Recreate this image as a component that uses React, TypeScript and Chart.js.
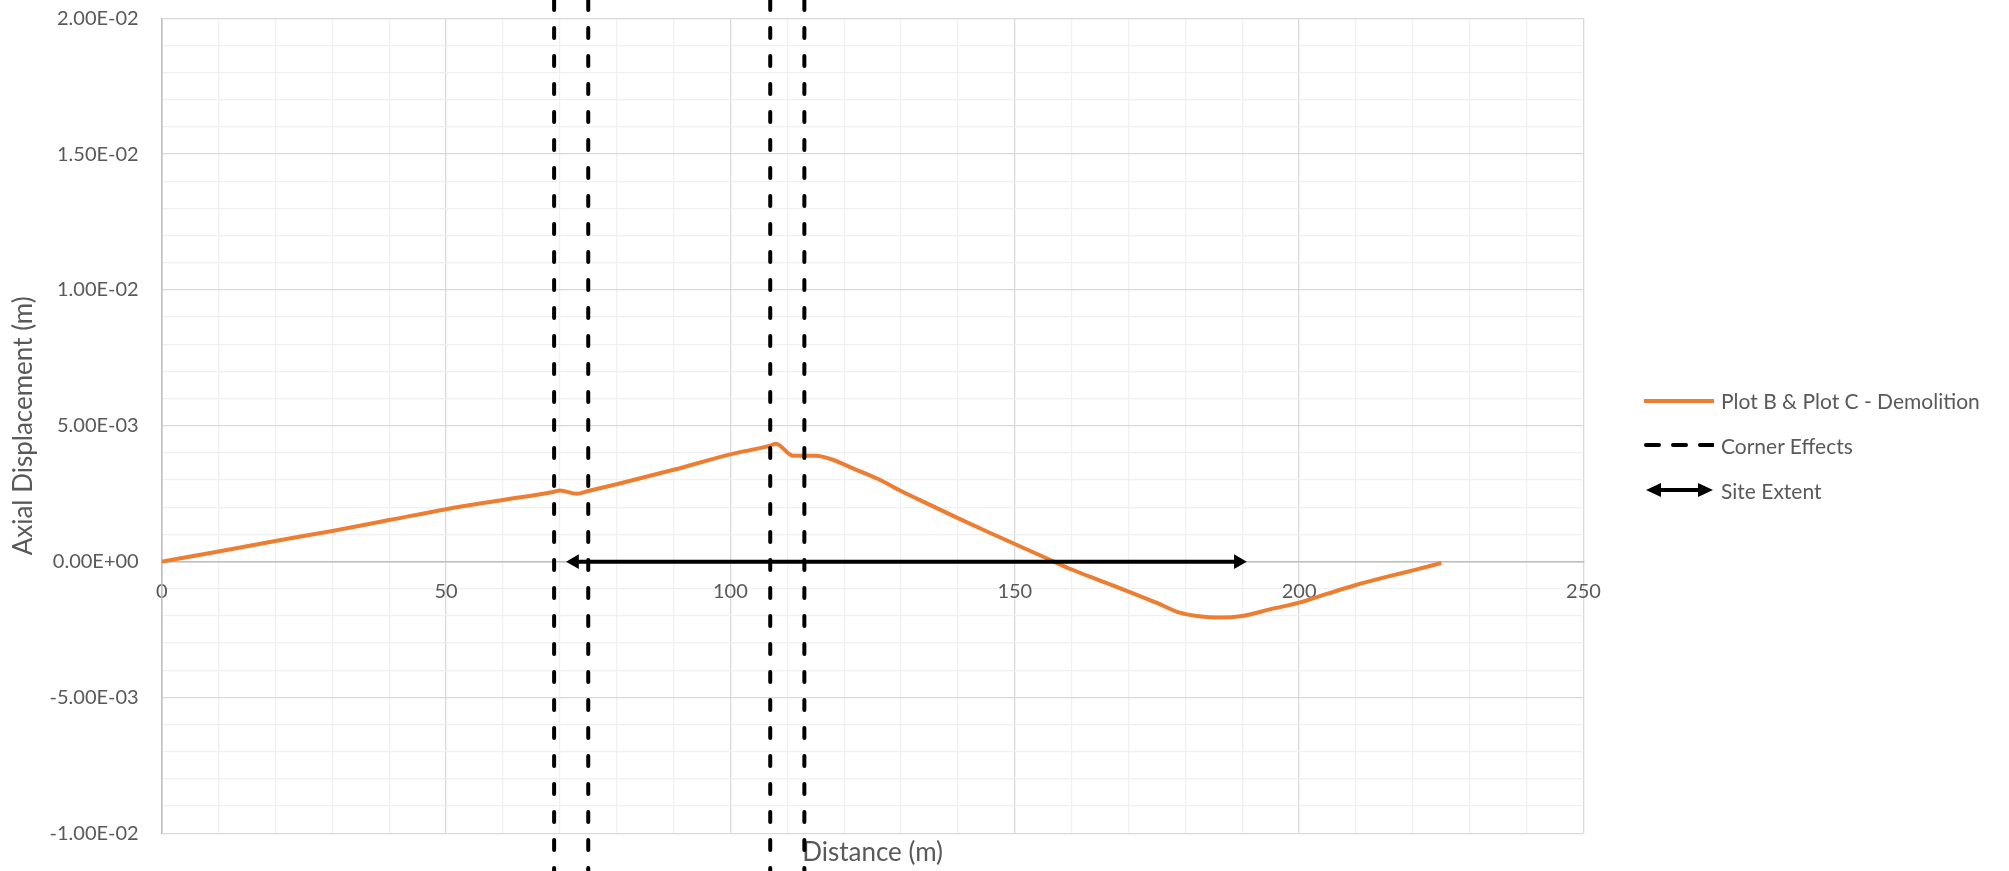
import React, { useEffect, useRef } from "react";
import { Chart, registerables } from "chart.js";

Chart.register(...registerables);

// ---- data ----
const distance = [0, 10, 20, 30, 40, 50, 60, 69, 70, 73, 75, 80, 90, 100, 107, 108, 111, 115, 118, 121, 126, 130, 135, 140, 145, 150, 155, 160, 165, 170, 175, 179, 182, 186, 190, 195, 200, 205, 210, 215, 220, 225];
const displacement = [0, 0.00037, 0.00076, 0.00113, 0.00153, 0.00193, 0.00227, 0.00257, 0.00262, 0.0025, 0.0026, 0.00285, 0.00338, 0.00395, 0.00427, 0.00434, 0.0039, 0.0039, 0.00375, 0.00348, 0.00304, 0.0026, 0.0021, 0.0016, 0.00112, 0.00065, 0.00018, -0.00029, -0.00070, -0.0011, -0.00152, -0.00188, -0.002, -0.00206, -0.002, -0.00175, -0.00151, -0.00118, -0.00086, -0.00058, -0.00032, -0.00005];
const cornerEffects = [69, 75, 107, 113];
const cornerSpan = [0.02067, -0.01139];
const siteExtent = [72.6, 189.3];

const seriesLabel = "Plot B & Plot C - Demolition";
const cornerLabel = "Corner Effects";
const siteLabel = "Site Extent";
const xTitle = "Distance (m)";
const yTitle = "Axial Displacement (m)";

const ORANGE = "#ED7D31";
const TEXT = "#595959";
const FONT = "Lato";
const TICK_FS = 20;
const TITLE_FS = 26;
const LEGEND_FS = 21;

function fmtSci(v: number): string {
  const r = Math.round(v * 1e6) / 1e6;
  if (Math.abs(r) < 1e-12) return "0.00E+00";
  const e = Math.floor(Math.log10(Math.abs(r)) + 1e-9);
  const m = r / Math.pow(10, e);
  return m.toFixed(2) + "E" + (e < 0 ? "-" : "+") + String(Math.abs(e)).padStart(2, "0");
}

function isMult(v: number, step: number) {
  const q = v / step;
  return Math.abs(q - Math.round(q)) < 1e-6;
}

export default function App() {
  const ref = useRef<HTMLCanvasElement | null>(null);

  useEffect(() => {
    document.body.style.margin = "0";
    const canvas = ref.current;
    if (!canvas) return;

    const datasets: any[] = [
      {
        label: seriesLabel,
        data: distance.map((d, i) => ({ x: d, y: displacement[i] })),
        borderColor: ORANGE,
        backgroundColor: ORANGE,
        borderWidth: 4,
        pointRadius: 0,
        cubicInterpolationMode: "monotone",
        order: 3,
      },
      ...cornerEffects.map((c) => ({
        label: cornerLabel,
        data: [
          { x: c, y: cornerSpan[0] },
          { x: c, y: cornerSpan[1] },
        ],
        borderColor: "#000000",
        borderWidth: 4,
        borderDash: [10, 18],
        borderCapStyle: "round",
        pointRadius: 0,
        clip: false,
        order: 2,
      })),
      {
        label: siteLabel,
        data: siteExtent.map((x) => ({ x, y: 0 })),
        borderColor: "#000000",
        backgroundColor: "#000000",
        borderWidth: 4,
        pointStyle: "triangle",
        pointRotation: [-90, 90],
        pointRadius: 8.5,
        pointBorderWidth: 0,
        pointBackgroundColor: "#000000",
        order: 1,
      },
    ];

    const tickFont = { family: FONT, size: TICK_FS };
    const titleFont = { family: FONT, size: TITLE_FS };

    const chart = new Chart(canvas, {
      type: "scatter",
      data: { datasets },
      options: {
        animation: false,
        responsive: false,
        showLine: true,
        layout: { padding: { top: 18.3, right: 425.5, bottom: 0, left: 0 } },
        plugins: { legend: { display: false }, tooltip: { enabled: false } },
        scales: {
          x: {
            type: "linear",
            position: { y: 0 } as any,
            min: 0,
            max: 250,
            ticks: {
              stepSize: 10,
              autoSkip: false,
              maxRotation: 0,
              padding: 18,
              color: TEXT,
              font: tickFont,
              callback: (v: any) => (isMult(Number(v), 50) ? String(v) : ""),
            },
            grid: {
              drawTicks: false,
              lineWidth: 1.3,
              color: (ctx: any) => {
                const v = ctx.tick ? ctx.tick.value : 0;
                if (Math.abs(v) < 1e-9) return "#BFBFBF";
                return isMult(v, 50) ? "#D9D9D9" : "#F0F0F0";
              },
            },
            border: { color: "#BFBFBF", width: 1.5 },
            afterFit: (s: any) => {
              s.paddingLeft = 0;
              s.paddingRight = 0;
            },
          },
          x2: {
            type: "linear",
            position: "bottom",
            min: 0,
            max: 250,
            ticks: { display: false },
            grid: { display: false, drawTicks: false },
            border: { display: false },
            title: { display: true, text: xTitle, color: TEXT, font: titleFont, padding: { top: 0, bottom: 2.4 } },
            afterFit: (s: any) => {
              s.height = 37.7;
              s.paddingLeft = 0;
              s.paddingRight = 0;
            },
          },
          y: {
            type: "linear",
            position: "left",
            min: -0.01,
            max: 0.02,
            ticks: {
              stepSize: 0.001,
              autoSkip: false,
              padding: 23,
              color: TEXT,
              font: tickFont,
              callback: (v: any) => (isMult(Number(v), 0.005) ? fmtSci(Number(v)) : ""),
            },
            grid: {
              drawTicks: false,
              lineWidth: 1.3,
              color: (ctx: any) => {
                const v = ctx.tick ? ctx.tick.value : 0;
                if (Math.abs(v) < 1e-9) return "#BFBFBF";
                return isMult(v, 0.005) ? "#D9D9D9" : "#F0F0F0";
              },
            },
            border: { color: "#BFBFBF", width: 1.5 },
            title: { display: true, text: yTitle, color: TEXT, font: titleFont, padding: { top: 8.4, bottom: 0 } },
            afterFit: (s: any) => {
              s.width = 161.7;
              s.paddingTop = 0;
              s.paddingBottom = 0;
            },
          },
        },
      } as any,
    });

    return () => chart.destroy();
  }, []);

  const legendText: React.CSSProperties = {
    fontFamily: FONT,
    fontSize: LEGEND_FS,
    color: TEXT,
    marginLeft: 7,
    whiteSpace: "nowrap",
  };
  const row: React.CSSProperties = {
    display: "flex",
    alignItems: "center",
    height: 44.7,
  };

  return (
    <div style={{ position: "relative", width: 2009, height: 871 }}>
      <canvas ref={ref} width={2009} height={871} style={{ display: "block" }} />
      <div style={{ position: "absolute", left: 1644, top: 378.4 }}>
        <div style={row}>
          <svg width={70} height={12}>
            <line x1={0} y1={6} x2={70} y2={6} stroke={ORANGE} strokeWidth={4} />
          </svg>
          <span style={legendText}>{seriesLabel}</span>
        </div>
        <div style={row}>
          <svg width={70} height={12}>
            <line x1={2} y1={6} x2={70} y2={6} stroke="#000" strokeWidth={4} strokeDasharray="13 14" strokeLinecap="round" />
          </svg>
          <span style={legendText}>{cornerLabel}</span>
        </div>
        <div style={row}>
          <svg width={70} height={16}>
            <line x1={10} y1={8} x2={60} y2={8} stroke="#000" strokeWidth={4} />
            <polygon points="2,8 17,1 17,15" fill="#000" />
            <polygon points="69,8 54,1 54,15" fill="#000" />
          </svg>
          <span style={legendText}>{siteLabel}</span>
        </div>
      </div>
    </div>
  );
}
